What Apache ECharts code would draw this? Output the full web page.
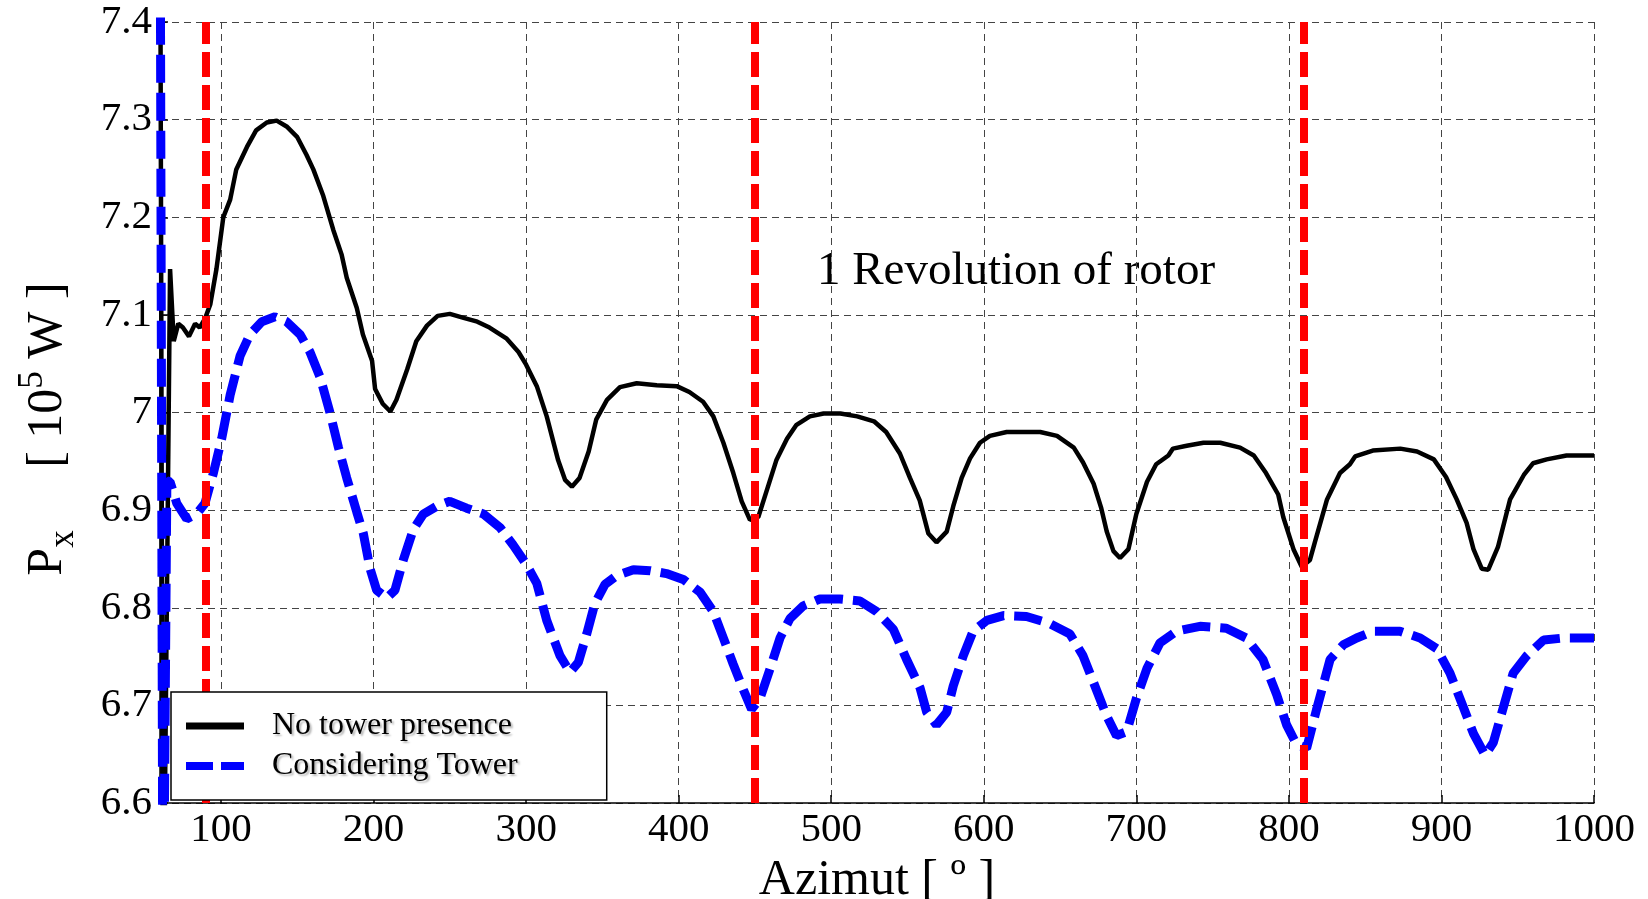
<!DOCTYPE html>
<html>
<head>
<meta charset="utf-8">
<title>Px vs Azimut</title>
<script src="https://cdn.jsdelivr.net/npm/echarts@6/dist/echarts.min.js"></script>
<style>
  html, body { margin: 0; padding: 0; background: #fff; }
  #chart { width: 1648px; height: 899px; }
</style>
</head>
<body>
<div id="chart"></div>
<script>
// azimut [deg] / power [10^5 W]
var noTowerAz = [60, 62, 66.6, 69, 72, 75, 79, 83, 86, 89.5, 93, 97, 101.5, 106, 110, 117, 123, 130, 136.5, 143, 150, 156, 160.5, 167, 173.6, 179, 182.4, 189, 193, 199, 201, 206, 211, 215, 222, 228, 235, 242, 250, 259, 268, 276, 287, 295, 300, 307, 313.5, 321, 325.5, 330, 335, 341, 346, 353, 361.5, 372.5, 385.6, 398.7, 407, 416, 422.7, 429.3, 435.8, 441.3, 446.7, 452.2, 457.7, 464, 471, 477, 486, 495, 506, 517, 528, 536, 545, 551.6, 558, 563.7, 569, 575.7, 580, 585.5, 591, 597.5, 604, 615, 637, 648, 659, 665, 672, 677, 680.6, 685, 689.3, 694.8, 700, 707, 713, 721, 724, 733, 744, 755, 768, 777, 785, 793, 796.3, 803, 808.4, 813.8, 817, 825, 833.5, 840, 843.4, 855, 873, 884, 895, 903, 910, 916.5, 921, 926.4, 930.7, 937, 945, 954, 960, 969, 982, 1000];
var noTowerPx = [7.6, 6.4, 7.147, 7.073, 7.091, 7.087, 7.078, 7.091, 7.087, 7.096, 7.111, 7.147, 7.2, 7.218, 7.249, 7.272, 7.289, 7.297, 7.299, 7.293, 7.282, 7.264, 7.249, 7.222, 7.187, 7.162, 7.138, 7.107, 7.08, 7.053, 7.024, 7.009, 7.001, 7.013, 7.044, 7.073, 7.089, 7.099, 7.101, 7.097, 7.093, 7.087, 7.076, 7.062, 7.049, 7.027, 6.996, 6.951, 6.931, 6.924, 6.933, 6.96, 6.993, 7.013, 7.026, 7.03, 7.028, 7.027, 7.021, 7.011, 6.996, 6.969, 6.938, 6.909, 6.89, 6.893, 6.92, 6.951, 6.973, 6.987, 6.996, 6.999, 6.999, 6.996, 6.991, 6.98, 6.958, 6.933, 6.91, 6.876, 6.867, 6.878, 6.904, 6.933, 6.953, 6.969, 6.976, 6.98, 6.98, 6.976, 6.964, 6.949, 6.927, 6.902, 6.878, 6.858, 6.851, 6.86, 6.896, 6.929, 6.947, 6.956, 6.963, 6.966, 6.969, 6.969, 6.964, 6.956, 6.938, 6.916, 6.893, 6.86, 6.842, 6.849, 6.867, 6.911, 6.938, 6.947, 6.955, 6.961, 6.963, 6.96, 6.952, 6.934, 6.911, 6.887, 6.86, 6.84, 6.839, 6.862, 6.911, 6.936, 6.948, 6.952, 6.956, 6.956];

var towerAz = [60, 62, 64.5, 66.6, 71, 77.5, 84, 89.5, 95, 100.4, 106, 112.5, 119, 126.7, 135.4, 143, 151.8, 158.3, 165, 171.4, 177, 182.4, 189, 193.3, 197.7, 202, 208.6, 214, 219.5, 226, 232.6, 241.4, 250, 261, 272, 283, 291.6, 300.3, 307, 313.5, 322.2, 328.8, 334.2, 339.7, 345, 351.7, 359.4, 370.3, 381.2, 392, 403, 414, 422.7, 429.3, 435.8, 442.4, 447.8, 453.3, 460, 466.4, 473, 481.7, 492.6, 505.7, 518.8, 529.8, 540.7, 549.4, 558.2, 562.6, 569, 575.7, 580, 586.6, 593, 602, 613, 628, 643, 656.5, 665, 671.8, 680.6, 687, 693.7, 700, 707, 715.5, 726.4, 741.7, 759, 772, 783, 792, 798.5, 805, 811.6, 818, 827, 835.7, 844.4, 855.4, 872.8, 886, 897, 905.6, 914.4, 921, 928.6, 934, 940.6, 947, 956, 967, 980, 1000];
var towerPx = [7.6, 6.4, 6.93, 6.929, 6.907, 6.891, 6.896, 6.907, 6.938, 6.973, 7.018, 7.058, 7.08, 7.093, 7.098, 7.093, 7.08, 7.062, 7.036, 7.0, 6.964, 6.933, 6.898, 6.876, 6.84, 6.818, 6.81, 6.818, 6.849, 6.88, 6.896, 6.904, 6.909, 6.902, 6.896, 6.882, 6.864, 6.844, 6.825, 6.787, 6.751, 6.734, 6.744, 6.773, 6.804, 6.824, 6.833, 6.839, 6.838, 6.835, 6.829, 6.816, 6.796, 6.769, 6.742, 6.716, 6.696, 6.707, 6.738, 6.769, 6.789, 6.802, 6.809, 6.809, 6.807, 6.796, 6.778, 6.747, 6.718, 6.693, 6.68, 6.693, 6.72, 6.751, 6.776, 6.787, 6.792, 6.791, 6.784, 6.773, 6.751, 6.724, 6.689, 6.669, 6.673, 6.707, 6.738, 6.764, 6.776, 6.781, 6.779, 6.769, 6.747, 6.711, 6.68, 6.66, 6.656, 6.695, 6.747, 6.762, 6.769, 6.776, 6.776, 6.769, 6.758, 6.733, 6.698, 6.671, 6.649, 6.662, 6.698, 6.733, 6.751, 6.767, 6.769, 6.769];

// one rotor revolution boundaries
var revolutionAz = [90, 450, 810];

var serif = '"Liberation Serif", "Times New Roman", serif';

function zip(xs, ys) {
    return xs.map(function (x, i) { return [x, ys[i]]; });
}

var chart = echarts.init(document.getElementById('chart'));

var textShadow = {
    textShadowColor: 'rgba(0,0,0,0.28)',
    textShadowBlur: 2,
    textShadowOffsetX: 2,
    textShadowOffsetY: 2
};

// hide the legend marker, keep only the line sample
var noMarker = { color: 'rgba(0,0,0,0)', borderWidth: 0, opacity: 0 };

var option = {
    animation: false,
    backgroundColor: '#fff',
    grid: { left: 160, right: 54, top: 22, bottom: 96, outerBoundsMode: 'none', containLabel: false },
    legend: {
        orient: 'vertical',
        left: 171,
        top: 692,
        z: 10,
        itemWidth: 58,
        itemHeight: 30,
        itemGap: 8,
        padding: [18, 89, 18, 11],
        backgroundColor: '#fff',
        borderColor: '#000',
        borderWidth: 1.5,
        borderRadius: 0,
        textStyle: Object.assign({
            fontFamily: serif,
            fontSize: 32,
            color: '#000',
            padding: [0, 0, 0, 23]
        }, textShadow),
        data: [
            { name: 'No tower presence', itemStyle: noMarker, lineStyle: { color: '#000', width: 7, type: 'solid' } },
            { name: 'Considering Tower', itemStyle: noMarker, lineStyle: { color: '#0000ff', width: 8, type: [27, 8] } }
        ]
    },
    xAxis: {
        type: 'value',
        min: 60,
        max: 1000,
        splitNumber: 9,
        name: 'Azimut [ º ]',
        nameLocation: 'middle',
        nameGap: 46,
        nameTextStyle: { fontFamily: serif, fontSize: 50, color: '#000' },
        axisLine: { show: true, onZero: false, lineStyle: { color: '#000', width: 1.5 } },
        axisTick: { show: true, inside: true, length: 8, lineStyle: { color: '#000', width: 1.5 } },
        axisLabel: {
            fontFamily: serif, fontSize: 41, color: '#000', margin: 7,
            formatter: function (v) { return v % 100 === 0 ? String(v) : ''; }
        },
        splitLine: { show: true, lineStyle: { color: '#444', width: 1, type: [7, 5] } }
    },
    yAxis: {
        type: 'value',
        min: 6.6,
        max: 7.4,
        interval: 0.1,
        axisLine: { show: true, lineStyle: { color: '#000', width: 1.5 } },
        axisTick: { show: true, inside: true, length: 8, lineStyle: { color: '#000', width: 1.5 } },
        axisLabel: {
            fontFamily: serif, fontSize: 41, color: '#000', margin: 8,
            formatter: function (v) { return String(+v.toFixed(1)); }
        },
        splitLine: { show: true, lineStyle: { color: '#444', width: 1, type: [7, 5] } }
    },
    graphic: [
        {
            type: 'text',
            x: 48,
            y: 429,
            rotation: Math.PI / 2,
            style: {
                text: '{a|P}{sub|x}{a|     [ 10}{sup|5}{a| W ]}',
                align: 'center',
                verticalAlign: 'middle',
                fill: '#000',
                rich: {
                    a: { fontFamily: serif, fontSize: 50, lineHeight: 66, fill: '#000' },
                    sub: { fontFamily: serif, fontSize: 35, lineHeight: 22, verticalAlign: 'bottom', fill: '#000' },
                    sup: { fontFamily: serif, fontSize: 35, lineHeight: 42, verticalAlign: 'top', fill: '#000' }
                }
            }
        },
        {
            type: 'text',
            x: 1016,
            y: 272,
            style: {
                text: '1 Revolution of rotor',
                align: 'center',
                verticalAlign: 'middle',
                fill: '#000',
                font: '47px ' + serif,
                shadowColor: 'rgba(0,0,0,0.28)',
                shadowBlur: 2,
                shadowOffsetX: 2,
                shadowOffsetY: 2
            }
        }
    ],
    series: [
        {
            name: 'No tower presence',
            type: 'line',
            symbol: 'none',
            clip: true,
            data: zip(noTowerAz, noTowerPx),
            lineStyle: { color: '#000', width: 4.5 },
            itemStyle: { color: '#000' },
            z: 2
        },
        {
            name: 'Considering Tower',
            type: 'line',
            symbol: 'none',
            clip: true,
            data: zip(towerAz, towerPx),
            lineStyle: { color: '#0000ff', width: 9, type: [28, 10] },
            itemStyle: { color: '#0000ff' },
            z: 3,
            markLine: {
                silent: true,
                symbol: ['none', 'none'],
                label: { show: false },
                lineStyle: { color: '#ff0000', width: 8, type: [25, 8] },
                emphasis: { disabled: true },
                data: revolutionAz.map(function (a) { return { xAxis: a }; })
            }
        }
    ]
};

chart.setOption(option);
</script>
</body>
</html>
